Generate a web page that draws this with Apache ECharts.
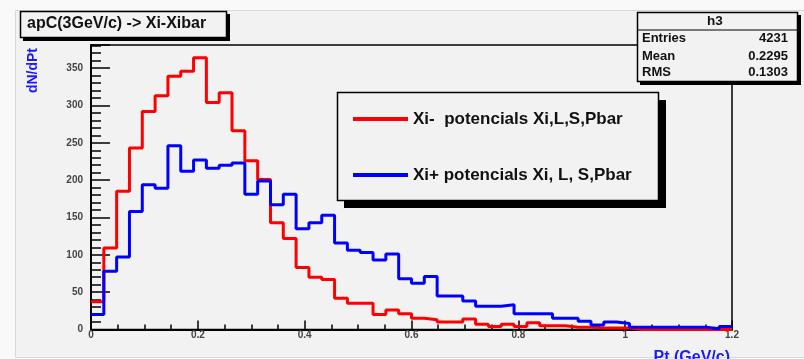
<!DOCTYPE html>
<html>
<head>
<meta charset="utf-8">
<script src="https://cdn.jsdelivr.net/npm/echarts@6/dist/echarts.min.js"></script>
<style>
html,body{margin:0;padding:0;background:#f9f9f9;}
#c{width:804px;height:359px;}
</style>
</head>
<body>
<div id="c"></div>
<script>
// Histogram binning (50 bins over 0..1.2 GeV/c)
const binWidth = 0.024;
const xMin = 0, xMax = 1.2;
// Xi- potencials Xi,L,S,Pbar (red)
const xiMinus = [37,109,185,243,292,313,339,346,364,304,317,266,226,201,143,122,83,70,67,42,
                 35,35,20,26,21,15,13,10,10,14,7,4,7,4,9,5,5,3,3,2,
                 2,2,0,0,0,0,0,0,0,0];
// Xi+ potencials Xi, L, S,Pbar (blue)
const xiPlus = [20,78,97,158,194,189,246,212,227,216,220,223,181,199,167,181,135,143,153,116,
                106,103,93,101,68,62,71,45,45,38,31,31,33,21,21,21,15,15,11,6,
                10,8,3,3,3,3,3,3,1,4];
const yTicks = [0,50,100,150,200,250,300,350];
const xTicks = [0,0.2,0.4,0.6,0.8,1,1.2];
const legendNames = ['Xi-  potencials Xi,L,S,Pbar','Xi+ potencials Xi, L, S,Pbar'];
const titleText = 'apC(3GeV/c) -> Xi-Xibar';
const statsName = 'h3';
const statsRows = [['Entries','4231'],['Mean','0.2295'],['RMS','0.1303']];

function toSteps(vals){
  const pts = vals.map((v,i)=>[xMin + i*binWidth, v]);
  pts.push([xMax, vals[vals.length-1]]);
  return pts;
}

const FONT = '"Liberation Sans", Arial, Helvetica, sans-serif';
const chart = echarts.init(document.getElementById('c'), null, {renderer:'canvas'});

const G = {l:91, r:732, t:45, b:329.5};

const graphics = [
  // canvas pad
  {type:'rect', shape:{x:15.5,y:10.5,width:800,height:347}, style:{fill:'#f2f2f2', stroke:'#d8d8d8', lineWidth:1}, z:-10, silent:true},
  // title box
  {type:'rect', shape:{x:23,y:14,width:207,height:27}, style:{fill:'#000'}, z:10},
  {type:'rect', shape:{x:20.5,y:11.5,width:206,height:26}, style:{fill:'#f2f2f2', stroke:'#000', lineWidth:1.5}, z:11},
  {type:'text', x:27, y:23.5, style:{text:titleText, font:'bold 16px '+FONT, fill:'#111', verticalAlign:'middle'}, z:12},
  // stats box
  {type:'rect', shape:{x:640,y:15,width:161,height:70}, style:{fill:'#000'}, z:10},
  {type:'rect', shape:{x:637.5,y:12.5,width:160,height:69}, style:{fill:'#f2f2f2', stroke:'#000', lineWidth:1.5}, z:11},
  {type:'line', shape:{x1:637.5,y1:30,x2:797.5,y2:30}, style:{stroke:'#000', lineWidth:1.2}, z:12},
  {type:'text', x:715, y:21.5, style:{text:statsName, font:'bold 13.5px '+FONT, fill:'#111', align:'center', verticalAlign:'middle'}, z:12},
  // legend box
  {type:'rect', shape:{x:344,y:100,width:322,height:108}, style:{fill:'#000'}, z:10},
  {type:'rect', shape:{x:337.5,y:92.5,width:321,height:108}, style:{fill:'#f2f2f2', stroke:'#000', lineWidth:1.5}, z:11},
  // axis titles
  {type:'text', x:730, y:358, style:{text:'Pt (GeV/c)', font:'bold 16px '+FONT, fill:'#1a1aff', align:'right', verticalAlign:'middle'}, z:12},
  {type:'text', x:33, y:48, rotation:Math.PI/2, style:{text:'dN/dPt', font:'bold 14px '+FONT, fill:'#1a1aff', align:'right', verticalAlign:'middle'}, z:12}
];
statsRows.forEach((r,i)=>{
  const y = [38,56,72][i];
  graphics.push({type:'text', x:642, y:y, style:{text:r[0], font:'bold 13px '+FONT, fill:'#111', verticalAlign:'middle'}, z:12});
  graphics.push({type:'text', x:788, y:y, style:{text:r[1], font:'bold 13px '+FONT, fill:'#111', align:'right', verticalAlign:'middle'}, z:12});
});

chart.setOption({
  animation:false,
  backgroundColor:'#f9f9f9',
  grid:{left:G.l, right:804-G.r, top:G.t, bottom:359-G.b, show:true, borderColor:'#000', borderWidth:1.5, backgroundColor:'#f2f2f2'},
  legend:{
    data:legendNames, orient:'vertical', left:348, top:105, itemGap:38,
    icon:'rect', itemWidth:55, itemHeight:4, z:20,
    textStyle:{fontFamily:FONT, fontWeight:'bold', fontSize:17, lineHeight:18, color:'#111'},
    selectedMode:false
  },
  xAxis:{
    type:'value', min:xMin, max:xMax, interval:0.2,
    axisLine:{show:true, onZero:false, lineStyle:{color:'#000', width:2}},
    axisTick:{show:true, inside:true, length:9, lineStyle:{color:'#000', width:1.5}},
    minorTick:{show:true, splitNumber:4, length:5, lineStyle:{color:'#000', width:1.5}},
    splitLine:{show:false},
    axisLabel:{margin:1, fontFamily:FONT, fontWeight:'bold', fontSize:10, color:'#444',
      customValues:xTicks, formatter:v=>String(+v.toFixed(2))}
  },
  yAxis:{
    type:'value', min:0, max:381, interval:50,
    axisLine:{show:true, lineStyle:{color:'#000', width:2}},
    axisTick:{show:true, inside:true, length:19, lineStyle:{color:'#000', width:1.5}},
    minorTick:{show:true, splitNumber:5, length:10, lineStyle:{color:'#000', width:1.5}},
    splitLine:{show:false},
    axisLabel:{margin:8, fontFamily:FONT, fontWeight:'bold', fontSize:10, color:'#444',
      customValues:yTicks}
  },
  series:[
    {name:legendNames[0], type:'line', step:'end', data:toSteps(xiMinus), symbol:'none',
     lineStyle:{color:'#ff0000', width:3}, itemStyle:{color:'#ff0000'}, z:3, clip:true},
    {name:legendNames[1], type:'line', step:'end', data:toSteps(xiPlus), symbol:'none',
     lineStyle:{color:'#0000ff', width:3}, itemStyle:{color:'#0000ff'}, z:4, clip:true}
  ],
  graphic:graphics
});
</script>
</body>
</html>
